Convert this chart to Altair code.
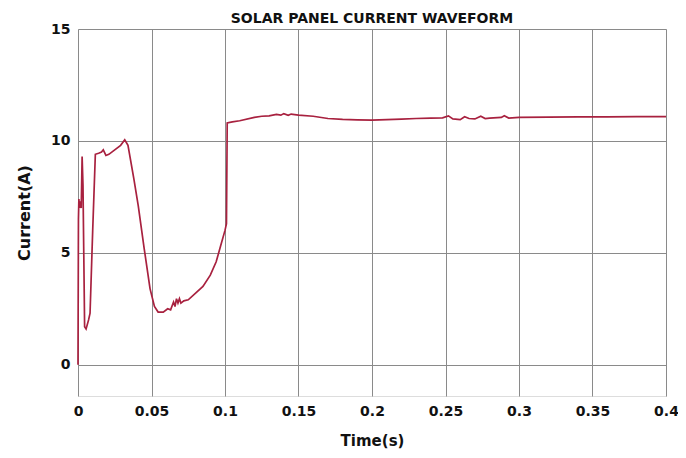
import altair as alt
import pandas as pd

time_s = [0.0, 0.0003, 0.0006, 0.0010, 0.0015, 0.0022, 0.0028, 0.0034, 0.0045, 0.0055,
          0.0072, 0.0082, 0.0100, 0.0118, 0.0140, 0.0160, 0.0172, 0.0190, 0.0210, 0.0250,
          0.0290, 0.0318, 0.0340, 0.0380, 0.0410, 0.0450, 0.0490, 0.0520, 0.0545, 0.0580,
          0.0610, 0.0630, 0.0650, 0.0660, 0.0670, 0.0680, 0.0690, 0.0700, 0.0720, 0.0750,
          0.0800, 0.0850, 0.0900, 0.0940, 0.0970, 0.1000, 0.1010, 0.1015, 0.1050, 0.1100,
          0.1200, 0.1250, 0.1300, 0.1350, 0.1380, 0.1400, 0.1430, 0.1450, 0.1500, 0.1600,
          0.1700, 0.1800, 0.1900, 0.2000, 0.2100, 0.2200, 0.2300, 0.2400, 0.2480, 0.2520,
          0.2550, 0.2600, 0.2630, 0.2660, 0.2700, 0.2740, 0.2770, 0.2800, 0.2880, 0.2900,
          0.2930, 0.3000, 0.3200, 0.3400, 0.3600, 0.3800, 0.4000]
current_a = [0.0, 6.5, 7.4, 7.0, 7.3, 7.0, 9.3, 8.0, 1.7, 1.6,
             2.0, 2.3, 6.0, 9.4, 9.45, 9.5, 9.6, 9.35, 9.4, 9.6,
             9.8, 10.05, 9.8, 8.3, 7.1, 5.2, 3.4, 2.6, 2.35, 2.35,
             2.5, 2.45, 2.8, 2.6, 2.95, 2.75, 2.95, 2.75, 2.85, 2.9,
             3.2, 3.5, 4.0, 4.6, 5.3, 6.0, 6.3, 10.8, 10.85, 10.9,
             11.05, 11.1, 11.12, 11.18, 11.15, 11.22, 11.14, 11.2, 11.15, 11.1,
             11.0, 10.96, 10.94, 10.93, 10.95, 10.97, 11.0, 11.02, 11.03, 11.12,
             10.98, 10.95, 11.08, 11.0, 10.98, 11.1, 11.0, 11.02, 11.05, 11.12,
             11.02, 11.05, 11.06, 11.07, 11.07, 11.08, 11.08]

x_ticks = [0, 0.05, 0.1, 0.15, 0.2, 0.25, 0.3, 0.35, 0.4]
y_ticks = [0, 5, 10, 15]

df = pd.DataFrame({"t": time_s, "i": current_a})

FONT = "DejaVu Sans"

chart = alt.Chart(df).mark_line(color="#a8213f", strokeWidth=1.7).encode(
    x=alt.X("t:Q",
            scale=alt.Scale(domain=[0, 0.4], nice=False, zero=False),
            axis=alt.Axis(values=x_ticks, format="~g", title="Time(s)",
                          labelFont=FONT, labelFontSize=14, labelFontWeight="bold",
                          labelColor="#111", labelPadding=8, tickSize=0,
                          titleFont=FONT, titleFontSize=15, titleFontWeight="bold",
                          titleColor="#111", titlePadding=15,
                          gridColor="#8a8a8a", gridWidth=1, domain=False,
                          labelFlush=False)),
    y=alt.Y("i:Q",
            scale=alt.Scale(domain=[-1.4, 15], nice=False, zero=False),
            axis=alt.Axis(values=y_ticks, title="Current(A)",
                          labelFont=FONT, labelFontSize=14, labelFontWeight="bold",
                          labelColor="#111", labelPadding=8, tickSize=0,
                          titleFont=FONT, titleFontSize=16, titleFontWeight="bold",
                          titleColor="#111", titlePadding=18,
                          gridColor="#8a8a8a", gridWidth=1, domain=False,
                          labelFlush=False)),
).properties(
    width=588,
    height=367,
    title=alt.TitleParams("SOLAR PANEL CURRENT WAVEFORM", font=FONT, fontSize=14,
                          fontWeight="bold", color="#111", offset=5, dy=9),
    autosize=alt.AutoSizeParams(type="none"),
    padding={"left": 70, "top": 21, "right": 12, "bottom": 54},
).configure_view(stroke="#222", strokeWidth=1.5).configure(background="white")

chart.save("out.html", embed_options={"renderer": "svg", "actions": False})
